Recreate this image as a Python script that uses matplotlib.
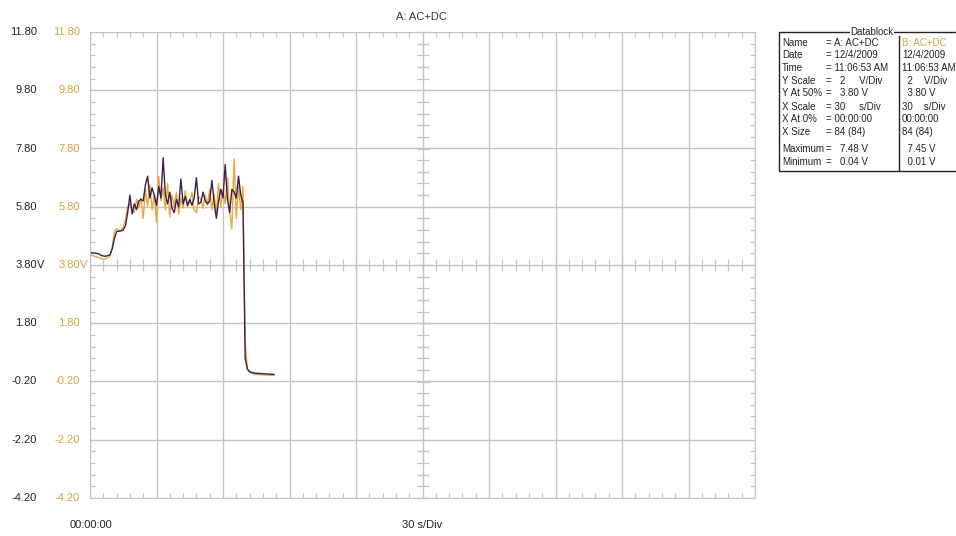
import numpy as np
import matplotlib.pyplot as plt
from matplotlib.patches import Rectangle
from matplotlib.lines import Line2D

# one sample per second, 84 samples
seconds = np.arange(84)

chan_a = [4.22, 4.22, 4.21, 4.20, 4.18, 4.13, 4.11, 4.10, 4.12, 4.15,
          4.35, 4.70, 4.95, 4.96, 4.97, 5.00, 5.15, 5.60, 6.20, 5.55,
          5.90, 5.70, 6.00, 6.05, 6.00, 6.55, 6.85, 6.10, 6.45, 6.20,
          5.85, 6.50, 6.10, 7.48, 6.20, 5.90, 6.30, 5.75, 5.60, 6.05,
          5.80, 6.75, 5.90, 6.15, 5.85, 6.05, 5.85, 6.10, 6.80, 5.90,
          5.95, 6.30, 6.00, 5.90, 6.00, 6.70, 5.95, 5.40, 6.00, 6.40,
          6.10, 7.25, 6.05, 5.60, 6.40, 6.30, 6.10, 6.85, 6.20, 5.95,
          0.60, 0.22, 0.14, 0.11, 0.09, 0.08, 0.08, 0.07, 0.07, 0.06,
          0.06, 0.05, 0.05, 0.04]

chan_b = [4.15, 4.13, 4.10, 4.08, 4.05, 4.02, 4.00, 4.01, 4.05, 4.10,
          4.40, 4.95, 5.05, 4.98, 5.00, 5.10, 5.35, 5.80, 5.90, 5.70,
          5.60, 6.05, 5.75, 6.10, 5.40, 6.40, 5.80, 6.55, 5.70, 6.20,
          5.25, 6.85, 6.00, 6.45, 5.70, 6.60, 5.45, 6.20, 5.80, 6.30,
          5.55, 6.10, 5.75, 6.35, 5.80, 5.95, 6.30, 5.70, 5.60, 6.15,
          6.05, 5.75, 6.20, 5.85, 6.40, 5.70, 6.25, 5.55, 6.60, 5.80,
          6.40, 5.90, 6.80, 5.60, 5.05, 7.45, 5.40, 6.50, 5.70, 6.50,
          1.20, 0.25, 0.12, 0.08, 0.06, 0.05, 0.04, 0.03, 0.03, 0.02,
          0.02, 0.02, 0.01, 0.01]

y_labels = ["11.80", "9.80", "7.80", "5.80", "3.80", "1.80", "-0.20", "-2.20", "-4.20"]

block_rows = ["Name", "Date", "Time", "Y Scale", "Y At 50%", "X Scale",
              "X At 0%", "X Size", "Maximum", "Minimum"]
block_a = ["= A: AC+DC", "= 12/4/2009", "= 11:06:53 AM", "=   2     V/Div",
           "=   3.80 V", "= 30     s/Div", "= 00:00:00", "= 84 (84)",
           "=   7.48 V", "=   0.04 V"]
block_b = ["B: AC+DC", "12/4/2009", "11:06:53 AM", "  2    V/Div", "  3.80 V",
           "30    s/Div", "00:00:00", "84 (84)", "  7.45 V", "  0.01 V"]

col_a = "#3a1f4f"
col_b = "#e8a83a"
grid_col = "#c4c4c4"
W, H = 956, 536

plt.rcParams["font.family"] = ["Liberation Sans", "DejaVu Sans"]
fig = plt.figure(figsize=(W / 100, H / 100), dpi=100)
ax = fig.add_axes([90 / W, 1 - 498 / H, 665 / W, 466 / H])

ax.plot(seconds, chan_b, color=col_b, lw=1.0)
ax.plot(seconds, chan_a, color=col_a, lw=1.0)

ax.set_xlim(0, 300)
ax.set_ylim(-4.2, 11.8)
ax.set_xticks(np.arange(0, 301, 30))
ax.set_yticks(np.arange(-4.2, 11.81, 2.0))
ax.set_xticks(np.arange(0, 301, 6), minor=True)
ax.set_yticks(np.arange(-4.2, 11.81, 0.4), minor=True)
ax.grid(True, which="major", color=grid_col, lw=1.0)
ax.tick_params(which="major", length=0, labelleft=False, labelbottom=False)
ax.tick_params(which="minor", direction="in", length=3.8, width=0.9,
               color=grid_col, top=True, right=True)
for s in ax.spines.values():
    s.set_color(grid_col)

# crosshair ticks through the centre
cx = fig.add_axes(ax.get_position(), frameon=False)
cx.set_xlim(0, 300)
cx.set_ylim(-4.2, 11.8)
cx.spines["left"].set_position(("data", 150))
cx.spines["bottom"].set_position(("data", 3.8))
cx.set_xticks([])
cx.set_yticks([])
cx.set_xticks(np.arange(0, 301, 6), minor=True)
cx.set_yticks(np.arange(-4.2, 11.81, 0.4), minor=True)
cx.tick_params(which="minor", direction="inout", length=8, width=0.9, color=grid_col)
cx.patch.set_visible(False)

# voltage labels, channel A in black and channel B in gold
for lab in y_labels:
    y = ax.transData.transform((0, float(lab)))[1] / H
    fig.text(37 / W, y, lab, ha="right", va="center", fontsize=8, color="#222222")
    fig.text(80 / W, y, lab, ha="right", va="center", fontsize=8, color="#d4a23c")
    if lab == "3.80":
        fig.text(37 / W, y, "V", ha="left", va="center", fontsize=8, color="#222222")
        fig.text(80 / W, y, "V", ha="left", va="center", fontsize=8, color="#d4a23c")

fig.text(422 / W, 1 - 17 / H, "A: AC+DC", ha="center", va="center", fontsize=8, color="#333333")
fig.text(91 / W, 1 - 525 / H, "00:00:00", ha="center", va="center", fontsize=8, color="#222222")
fig.text(422 / W, 1 - 525 / H, "30 s/Div", ha="center", va="center", fontsize=8, color="#222222")

# datablock panel
fig.patches.append(Rectangle((779 / W, 1 - 171 / H), 190 / W, 139 / H, transform=fig.transFigure,
                             fill=False, edgecolor="#222222", lw=1.0))
fig.lines.append(Line2D([899 / W, 899 / W], [1 - 36 / H, 1 - 171 / H], transform=fig.transFigure,
                        color="#222222", lw=1.0))
fig.text(872 / W, 1 - 32 / H, "Datablock", ha="center", va="center", fontsize=7,
         color="#222222", bbox=dict(facecolor="white", edgecolor="none", pad=0.5))
row_y = [43, 55.5, 68, 81, 93.5, 107, 119.5, 132, 149, 162]
for lab, a, b, y in zip(block_rows, block_a, block_b, row_y):
    fig.text(782 / W, 1 - y / H, lab, ha="left", va="center", fontsize=7, color="#222222")
    fig.text(826 / W, 1 - y / H, a, ha="left", va="center", fontsize=7, color="#222222")
    fig.text(902 / W, 1 - y / H, b, ha="left", va="center", fontsize=7,
             color="#d4a23c" if lab == "Name" else "#222222")

fig.savefig("out.png", dpi=100)
